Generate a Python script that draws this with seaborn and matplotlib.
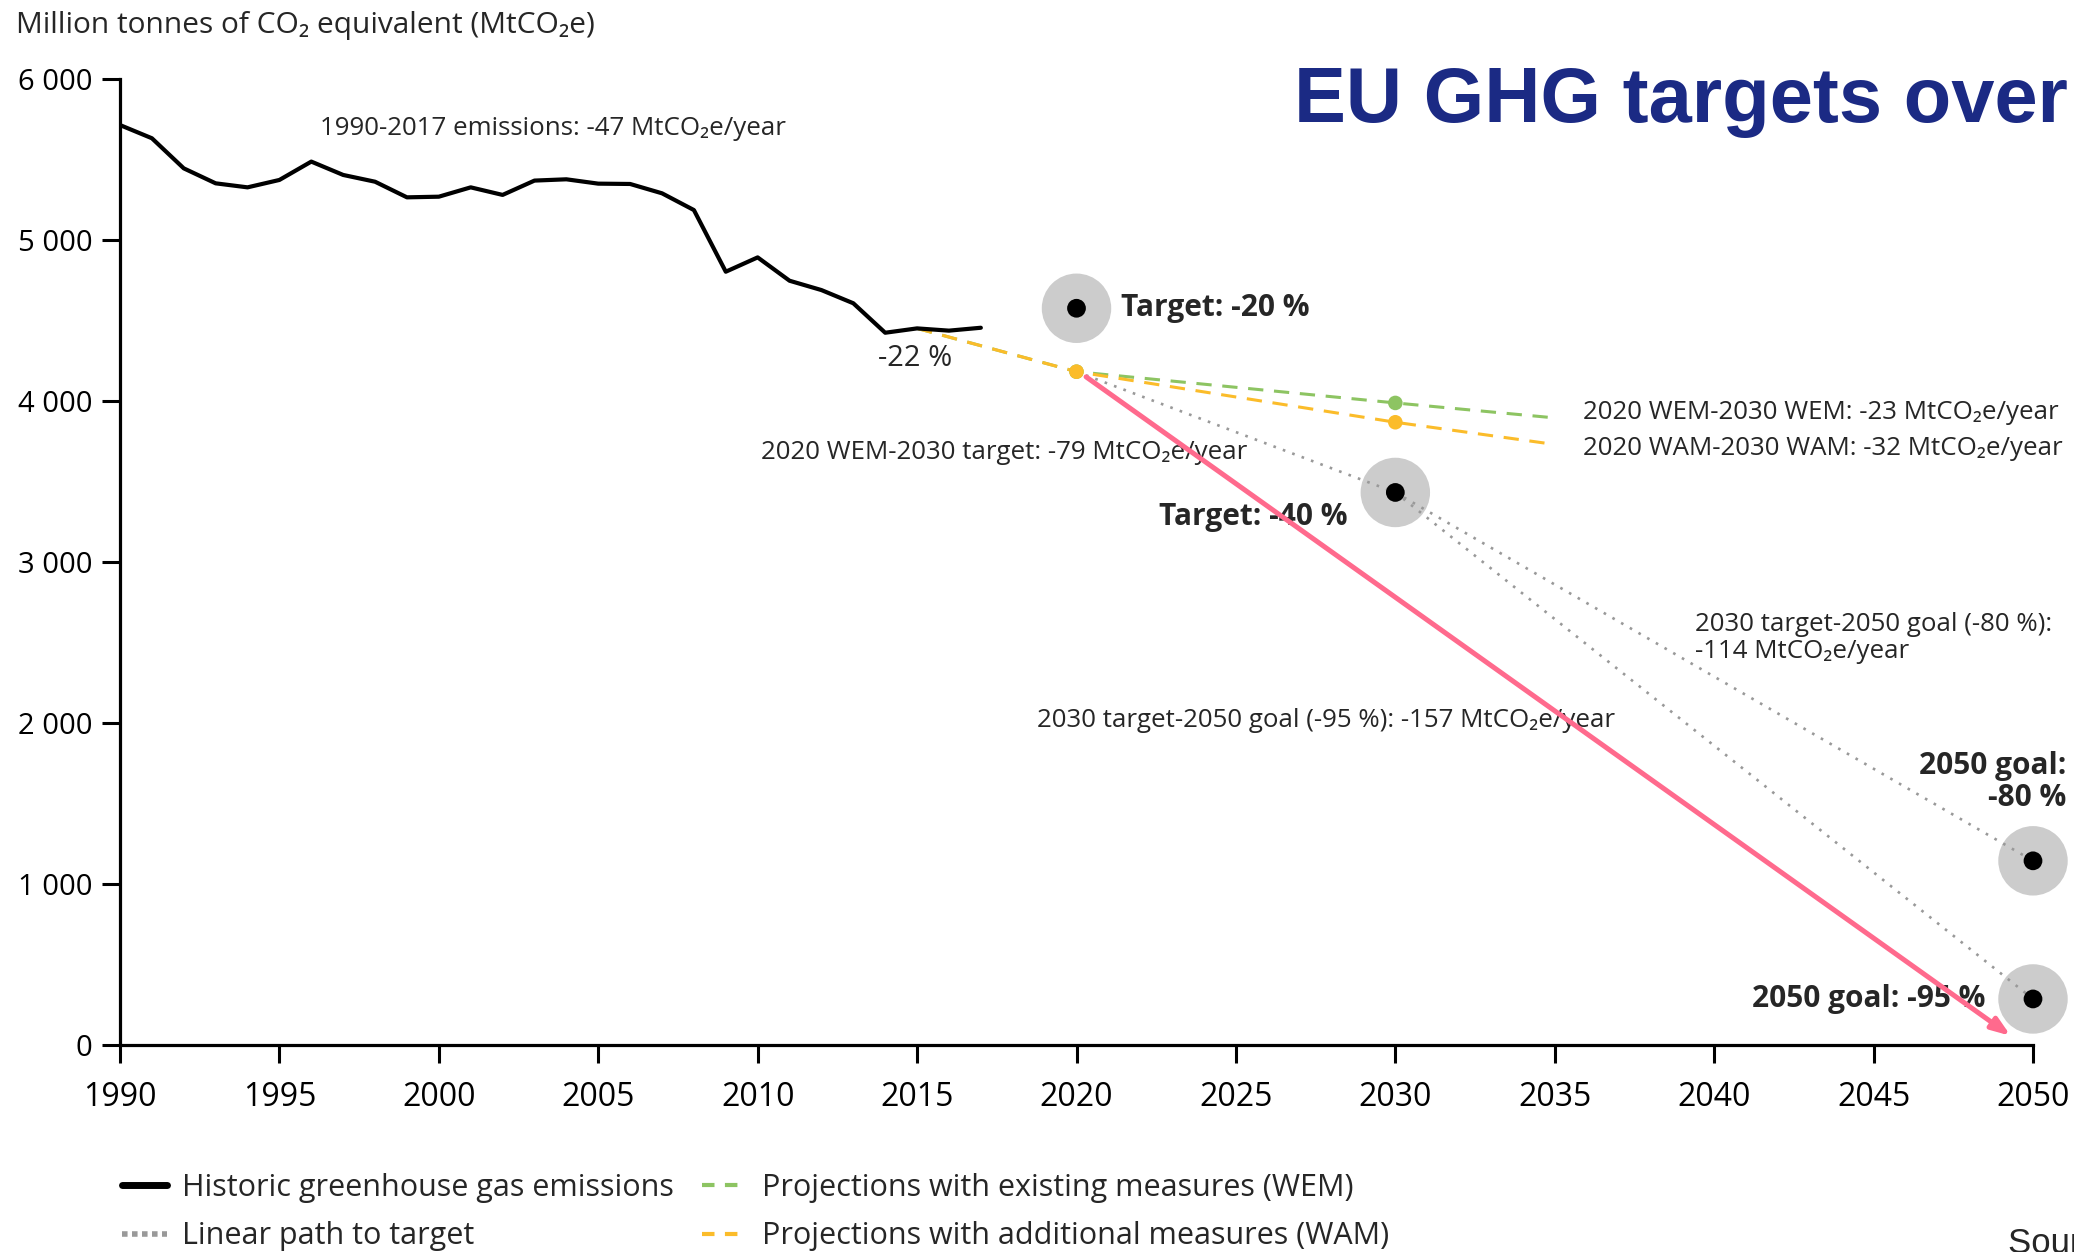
import matplotlib
matplotlib.use("Agg")
import matplotlib.pyplot as plt
import seaborn as sns
import pandas as pd
from matplotlib.ticker import FuncFormatter
from matplotlib.lines import Line2D

# ---------------- data ----------------
hist_years = list(range(1990, 2018))
hist_values = [5714, 5632, 5445, 5352, 5327, 5373, 5487, 5404, 5362, 5265,
               5269, 5327, 5280, 5369, 5377, 5350, 5348, 5290, 5186, 4803,
               4892, 4747, 4689, 4607, 4424, 4451, 4437, 4455]

proj_years = [2015, 2020, 2030, 2035]
wem_values = [4451, 4182, 3988, 3895]
wam_values = [4451, 4182, 3868, 3730]
marker_years = [2020, 2030]
wem_marker_values = [4182, 3988]
wam_marker_values = [4182, 3868]

target_years = [2020, 2030, 2050, 2050]
target_values = [4576, 3432, 1144, 286]

path_wem_years = [2020, 2030]
path_wem_values = [4182, 3432]
path_80_years = [2030, 2050]
path_80_values = [3432, 1144]
path_95_years = [2030, 2050]
path_95_values = [3432, 286]

arrow_years = [2020.3, 2049.3]
arrow_values = [4150, 57]

x_ticks = list(range(1990, 2051, 5))
y_ticks = [0, 1000, 2000, 3000, 4000, 5000, 6000]

# ---------------- style ----------------
sns.set_style("ticks")
plt.rcParams['font.family'] = ['Open Sans', 'DejaVu Sans']

GREEN = '#8dc462'
ORANGE = '#fbbc2a'
GREY_DOT = '#999999'
PINK = '#ff6a8d'
CIRCLE = '#cccccc'
NAVY = '#1b2a84'

fig = plt.figure(figsize=(20.74, 12.52), dpi=100)
ax = fig.add_axes([120/2074, 1-1045/1252, (2033-120)/2074, (1045-79)/1252])

# historic emissions
sns.lineplot(x=hist_years, y=hist_values, ax=ax, color='black', lw=3.0,
             zorder=5, label='Historic greenhouse gas emissions')

# projections
sns.lineplot(x=proj_years, y=wem_values, ax=ax, color=GREEN, lw=2.2,
             linestyle=(0, (5, 3.5)), zorder=4,
             label='Projections with existing measures (WEM)')
sns.lineplot(x=proj_years, y=wam_values, ax=ax, color=ORANGE, lw=2.2,
             linestyle=(0, (5, 3.5)), zorder=4,
             label='Projections with additional measures (WAM)')
sns.scatterplot(x=marker_years, y=wem_marker_values, ax=ax, color=GREEN,
                s=110, edgecolor='none', zorder=6, legend=False)
sns.scatterplot(x=marker_years, y=wam_marker_values, ax=ax, color=ORANGE,
                s=110, edgecolor='none', zorder=6, legend=False)

# linear paths
for i, (xs, ys) in enumerate([(path_wem_years, path_wem_values),
                               (path_80_years, path_80_values),
                               (path_95_years, path_95_values)]):
    sns.lineplot(x=xs, y=ys, ax=ax, color=GREY_DOT, lw=1.9,
                 linestyle=(0, (1, 2.8)), zorder=3,
                 label='Linear path to target' if i == 0 else None)

# target circles
sns.scatterplot(x=target_years, y=target_values, ax=ax, color=CIRCLE,
                s=50**2, edgecolor='none', zorder=2, legend=False, clip_on=False)
sns.scatterplot(x=target_years, y=target_values, ax=ax, color='black',
                s=13.5**2, edgecolor='none', zorder=7, legend=False, clip_on=False)

# pink arrow
ax.annotate('', xy=(arrow_years[1], arrow_values[1]),
            xytext=(arrow_years[0], arrow_values[0]),
            arrowprops=dict(arrowstyle='-|>,head_length=1.1,head_width=0.4',
                            color=PINK, lw=3.6, shrinkA=0, shrinkB=0),
            zorder=10, annotation_clip=False)

# ---------------- axes ----------------
ax.set_xlim(1990, 2050)
ax.set_ylim(0, 6000)
ax.set_xticks(x_ticks)
ax.set_yticks(y_ticks)
ax.yaxis.set_major_formatter(FuncFormatter(lambda v, p: f"{int(v):,}".replace(",", " ")))
ax.set_xlabel('')
ax.set_ylabel('')
for s in ['top', 'right']:
    ax.spines[s].set_visible(False)
for s in ['left', 'bottom']:
    ax.spines[s].set_linewidth(2.3)
    ax.spines[s].set_color('black')
ax.tick_params(axis='both', direction='out', length=13, width=2.2, colors='black')
ax.tick_params(axis='x', pad=13, labelsize=23)
ax.tick_params(axis='y', pad=7, labelsize=21)
leg = ax.get_legend()
if leg is not None:
    leg.remove()

# ---------------- texts ----------------
small = 18.6
bold = 21.5
ax.text(1996.27, 5694, '1990-2017 emissions: -47 MtCO₂e/year', fontsize=small,
        ha='left', va='center', zorder=8)
ax.text(2021.4, 4577, 'Target: -20 %', fontsize=bold, fontweight='bold',
        ha='left', va='center', zorder=8)
ax.text(2014.95, 4265, '-22 %', fontsize=21, ha='center', va='center', zorder=8)
ax.text(2010.1, 3681, '2020 WEM-2030 target: -79 MtCO₂e/year', fontsize=small,
        ha='left', va='center', zorder=8)
ax.text(2022.6, 3279, 'Target: -40 %', fontsize=bold, fontweight='bold',
        ha='left', va='center', zorder=8)
ax.text(2035.9, 3928, '2020 WEM-2030 WEM: -23 MtCO₂e/year', fontsize=small,
        ha='left', va='center', zorder=8)
ax.text(2035.9, 3706, '2020 WAM-2030 WAM: -32 MtCO₂e/year', fontsize=small,
        ha='left', va='center', zorder=8)
ax.text(2039.4, 2528, '2030 target-2050 goal (-80 %):\n-114 MtCO₂e/year',
        fontsize=small, ha='left', va='center', linespacing=1.12, zorder=8)
ax.text(2018.76, 2013, '2030 target-2050 goal (-95 %): -157 MtCO₂e/year',
        fontsize=small, ha='left', va='center', zorder=8)
ax.text(2051.05, 1632, '2050 goal:\n-80 %', fontsize=bold, fontweight='bold',
        ha='right', va='center', multialignment='right', linespacing=1.1,
        zorder=8, clip_on=False)
ax.text(2048.5, 288, '2050 goal: -95 %', fontsize=bold, fontweight='bold',
        ha='right', va='center', zorder=8)

fig.text(16/2074, 1-26/1252, 'Million tonnes of CO₂ equivalent (MtCO₂e)',
         fontsize=21.5, ha='left', va='center')

fig.text(1294/2074, 1-122/1252, 'EU GHG targets over', fontsize=56,
         fontweight='bold', color=NAVY, family='Liberation Sans',
         ha='left', va='baseline')
fig.text(2008/2074, 1-1227/1252, 'Source: EEA', fontsize=25,
         family='Liberation Sans', ha='left', va='top')

# ---------------- legend ----------------
handles = [
    Line2D([], [], color='black', lw=5),
    Line2D([], [], color=GREY_DOT, lw=4, linestyle=(0, (1, 0.8))),
    Line2D([], [], color=GREEN, lw=3, linestyle=(0, (3, 2.5))),
    Line2D([], [], color=ORANGE, lw=3, linestyle=(0, (3, 2.5))),
]
labels = ['Historic greenhouse gas emissions', 'Linear path to target',
          'Projections with existing measures (WEM)',
          'Projections with additional measures (WAM)']
fig.legend(handles, labels, ncol=2, loc='upper left',
           bbox_to_anchor=(122/2074, 1-1173/1252), frameon=False,
           fontsize=22, handlelength=1.47, handletextpad=0.48,
           columnspacing=0.95, labelspacing=0.6, borderaxespad=0, borderpad=0)

fig.savefig('out.png', dpi=100)
